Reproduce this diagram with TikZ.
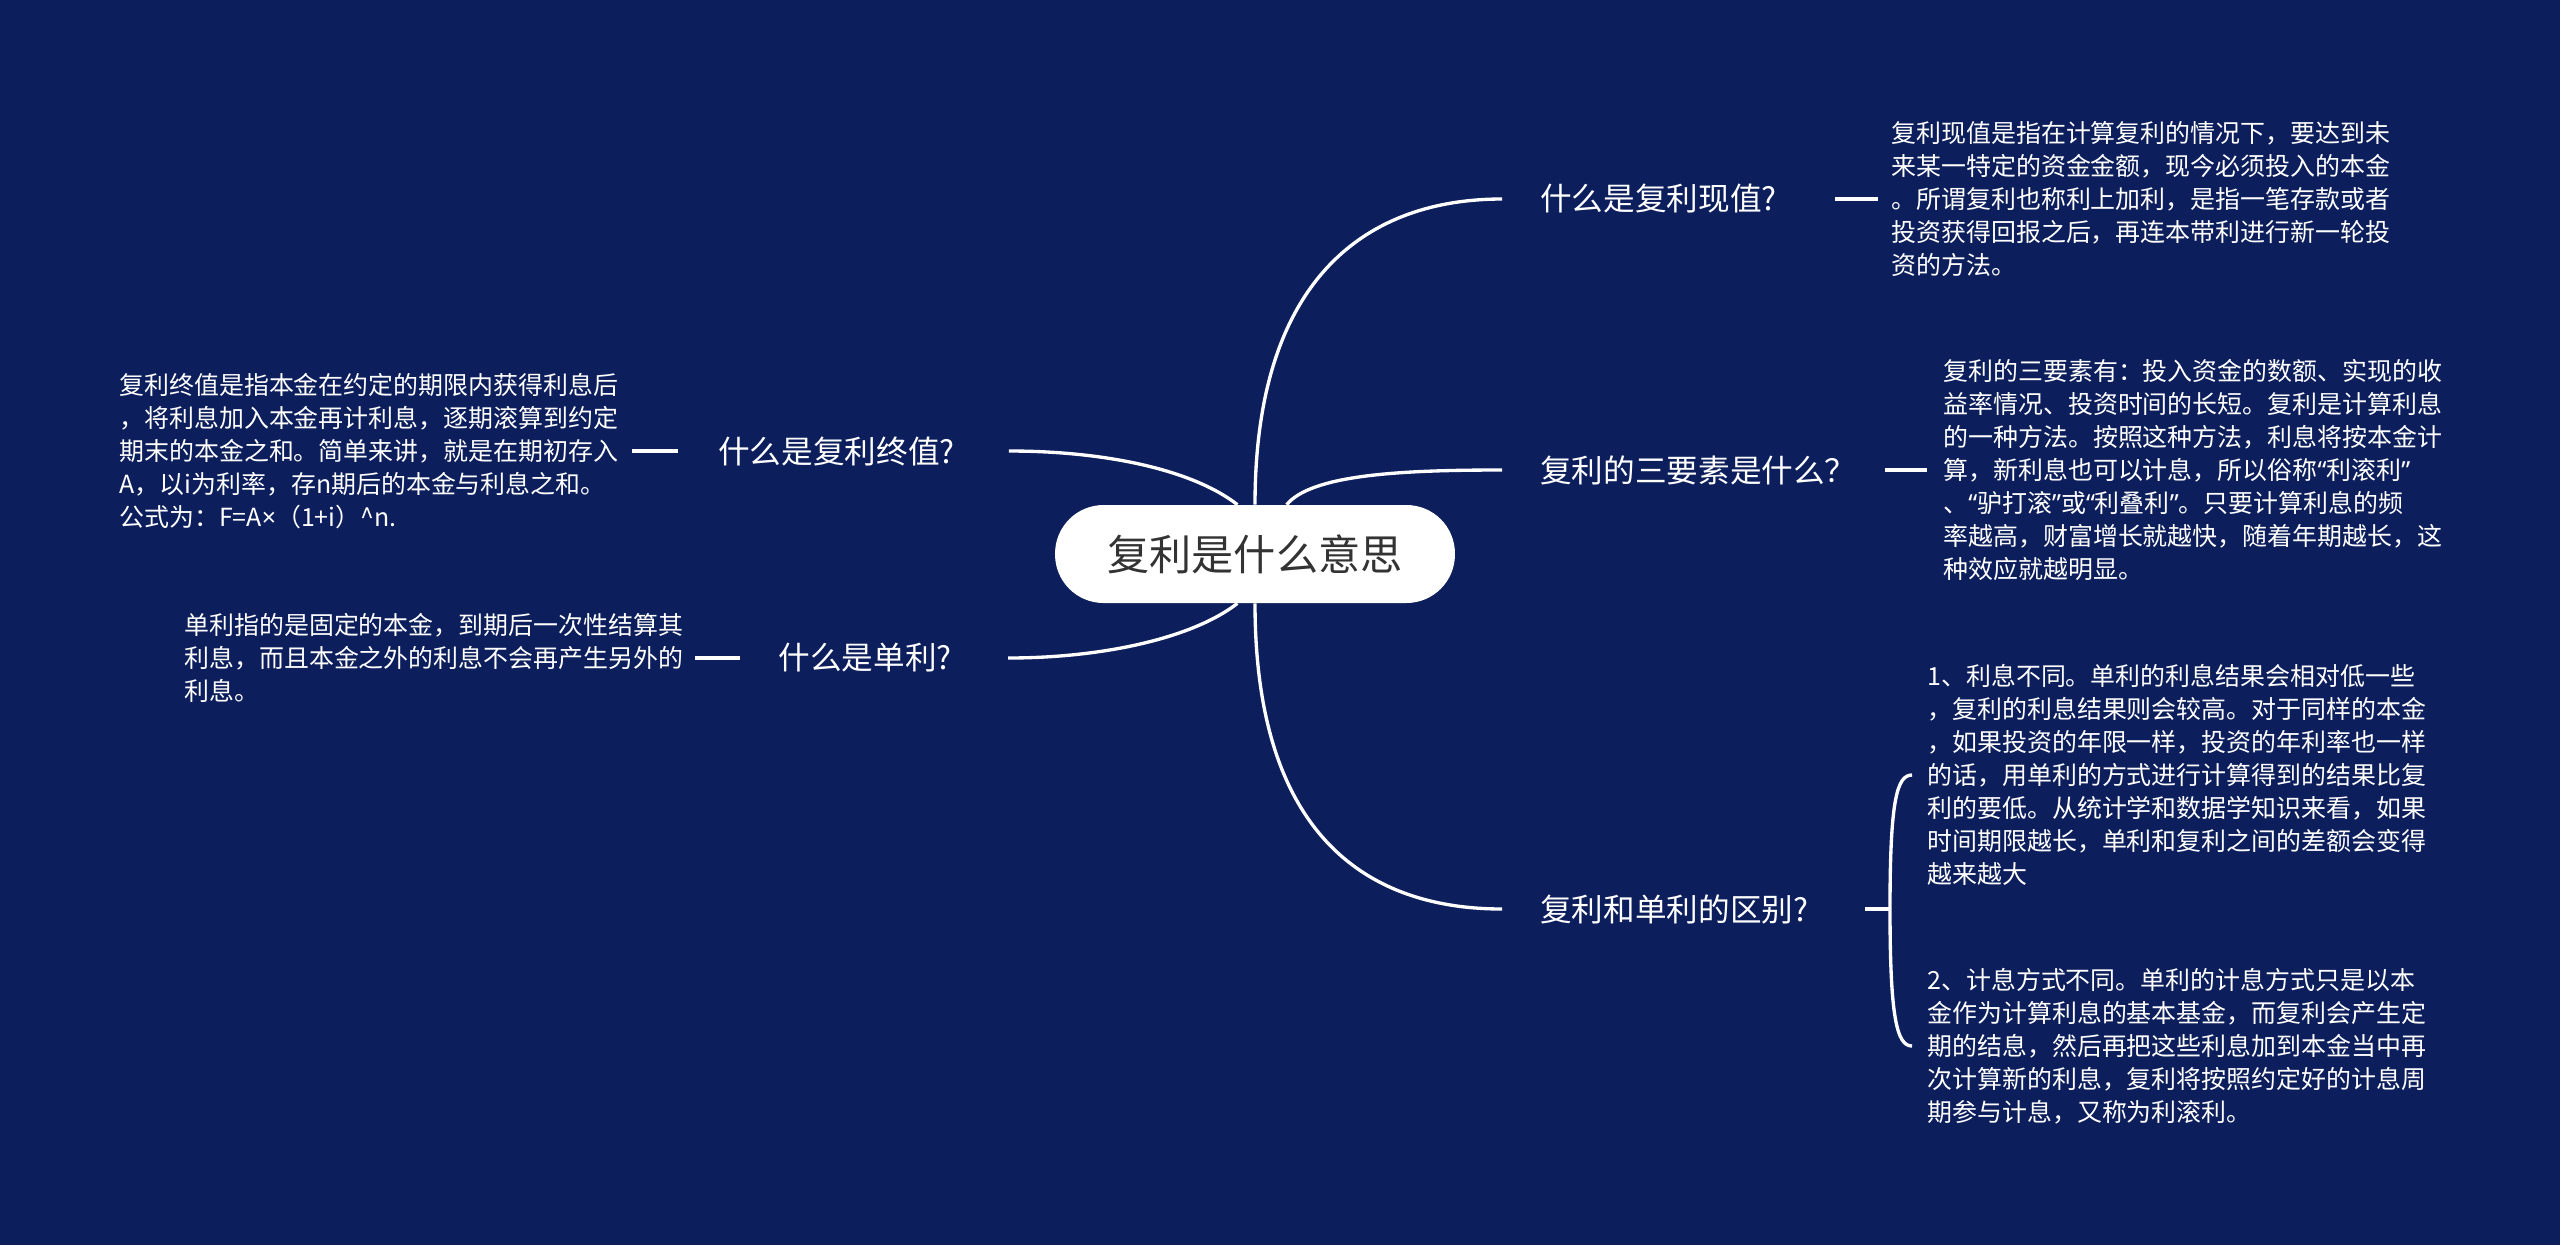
\documentclass[tikz,border=0pt]{standalone}
\usepackage{fontspec}
\setmainfont{Noto Sans CJK SC}
\newfontfamily\latinfont{Noto Sans}
\newcommand{\qopen}{{\latinfont “}}
\newcommand{\qclose}{{\latinfont ”}}
\definecolor{navybg}{HTML}{0C1E5B}
\definecolor{hubtext}{HTML}{333333}

\begin{document}
\begin{tikzpicture}[x=0.02cm, y=-0.02cm,
    link/.style={draw=white, line width=1.9pt},
    stub/.style={draw=white, line width=1.9pt},
    hub/.style={fill=white, text=hubtext, rounded corners=0.97cm,
        minimum width=8cm, minimum height=1.96cm, inner sep=0pt,
        font=\fontsize{24pt}{28pt}\selectfont},
    topic/.style={text=white, inner sep=0pt, font=\fontsize{18pt}{22pt}\selectfont},
    note/.style={text=white, inner sep=0pt, align=left,
        font=\fontsize{14.2pt}{18.8pt}\selectfont}]
    % Hintergrund
    \useasboundingbox (0,0) rectangle (2560,1245);
    \fill[navybg] (0,0) rectangle (2560,1245);

    % Mitte
    \node[hub] (root) at (1255,554) {复利是什么意思};

    % Fragen rechts
    \node[topic, anchor=west] (q1) at (1540,199) {什么是复利现值?};
    \node[topic, anchor=west] (q2) at (1540,470) {复利的三要素是什么？};
    \node[topic, anchor=west] (q3) at (1540,909) {复利和单利的区别?};

    % Fragen links
    \node[topic, anchor=east] (q4) at (955,451) {什么是复利终值?};
    \node[topic, anchor=east] (q5) at (952,658) {什么是单利?};

    % Antworten
    \node[note, anchor=west] (a1) at (1891,199) {复利现值是指在计算复利的情况下，要达到未\\来某一特定的资金金额，现今必须投入的本金\\。所谓复利也称利上加利，是指一笔存款或者\\投资获得回报之后，再连本带利进行新一轮投\\资的方法。};
    \node[note, anchor=west] (a2) at (1943,470) {复利的三要素有：投入资金的数额、实现的收\\益率情况、投资时间的长短。复利是计算利息\\的一种方法。按照这种方法，利息将按本金计\\算，新利息也可以计息，所以俗称\qopen 利滚利\qclose\\、\qopen 驴打滚\qclose 或\qopen 利叠利\qclose 。只要计算利息的频\\率越高，财富增长就越快，随着年期越长，这\\种效应就越明显。};
    \node[note, anchor=west] (a3) at (1927,775) {1、利息不同。单利的利息结果会相对低一些\\，复利的利息结果则会较高。对于同样的本金\\，如果投资的年限一样，投资的年利率也一样\\的话，用单利的方式进行计算得到的结果比复\\利的要低。从统计学和数据学知识来看，如果\\时间期限越长，单利和复利之间的差额会变得\\越来越大};
    \node[note, anchor=west] (a4) at (1927,1046) {2、计息方式不同。单利的计息方式只是以本\\金作为计算利息的基本基金，而复利会产生定\\期的结息，然后再把这些利息加到本金当中再\\次计算新的利息，复利将按照约定好的计息周\\期参与计息，又称为利滚利。};
    \node[note, anchor=west] (a5) at (119,451) {复利终值是指本金在约定的期限内获得利息后\\，将利息加入本金再计利息，逐期滚算到约定\\期末的本金之和。简单来讲，就是在期初存入\\A，以i为利率，存n期后的本金与利息之和。\\公式为：F=A{\latinfont ×}（1+i）\textasciicircum n.};
    \node[note, anchor=west] (a6) at (184,658) {单利指的是固定的本金，到期后一次性结算其\\利息，而且本金之外的利息不会再产生另外的\\利息。};

    % Aeste von der Mitte
    \draw[link, shorten >=21.6pt] (root.north) .. controls +(0,-230) and +(-170,0) .. (q1.west);
    \draw[link, shorten >=21.6pt] ([xshift=18pt]root.north) .. controls +(25,-30) and +(-140,0) .. (q2.west);
    \draw[link, shorten >=21.6pt] (root.south) .. controls +(0,235) and +(-170,0) .. (q3.west);
    \draw[link, shorten >=30.7pt] ([xshift=-10pt]root.north) .. controls +(-45,-35) and +(150,0) .. (q4.east);
    \draw[link, shorten >=32pt] ([xshift=-10pt]root.south) .. controls +(-45,35) and +(150,0) .. (q5.east);

    % kurze Striche
    \draw[stub, shorten <=33pt, shorten >=7.4pt] (q1.east) -- (q1.east -| a1.west);
    \draw[stub, shorten <=16pt, shorten >=9pt] (q2.east) -- (q2.east -| a2.west);
    \draw[stub, shorten <=7.4pt, shorten >=22.8pt] (a5.east) -- (a5.east -| q4.west);
    \draw[stub, shorten <=6.3pt, shorten >=22pt] (a6.east) -- (a6.east -| q5.west);

    % Klammer
    \coordinate (fork) at (1890,909);
    \draw[stub, shorten <=32pt] (q3.east) -- (q3.east -| fork);
    \draw[link, shorten >=8.5pt] (fork) .. controls +(0,-110) and +(-30,0) .. (a3.west);
    \draw[link, shorten >=8.5pt] (fork) .. controls +(0,110) and +(-30,0) .. (a4.west);
\end{tikzpicture}
\end{document}
